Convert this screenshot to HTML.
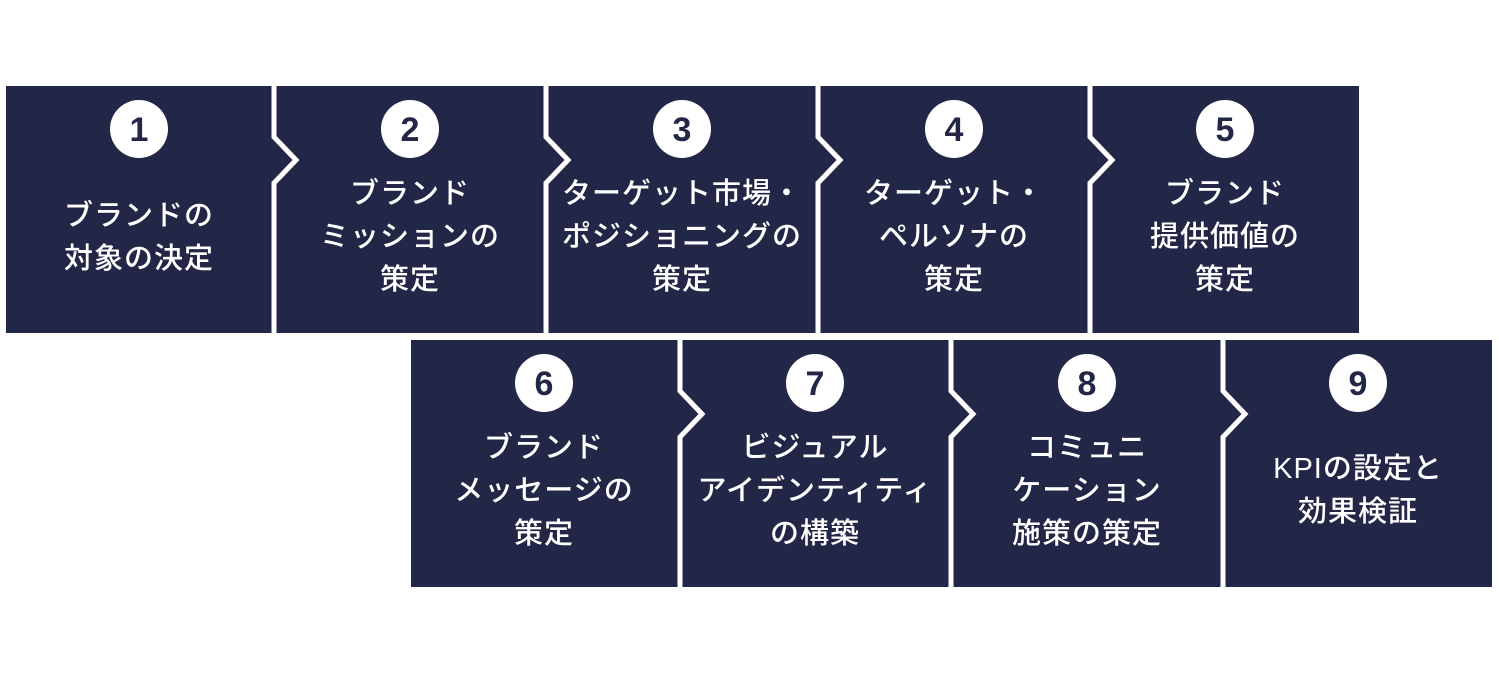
<!DOCTYPE html>
<html><head><meta charset="utf-8"><style>
body{margin:0;background:#fff;}
svg{display:block}
text{font-family:"Liberation Sans","Noto Sans CJK JP",sans-serif;}
.t{fill:#fff;font-size:29px;font-weight:500;text-anchor:middle;letter-spacing:1px}
.n{fill:#232747;font-size:34px;font-weight:bold;text-anchor:middle}
</style></head><body>
<svg width="1499" height="675" xmlns="http://www.w3.org/2000/svg">
<rect width="1499" height="675" fill="#fff"/>
<rect x="6" y="86" width="1353" height="247" fill="#232747"/>
<rect x="411" y="340" width="1081" height="247" fill="#232747"/>
<g stroke="#fff" stroke-width="5" fill="none">
<polyline points="274,84 274,137 296,160 274,183 274,335"/>
<polyline points="546,84 546,137 568,160 546,183 546,335"/>
<polyline points="818,84 818,137 840,160 818,183 818,335"/>
<polyline points="1090,84 1090,137 1112,160 1090,183 1090,335"/>
<polyline points="680,338 680,391 702,414 680,437 680,589"/>
<polyline points="951,338 951,391 973,414 951,437 951,589"/>
<polyline points="1223,338 1223,391 1245,414 1223,437 1223,589"/>
</g>
<g fill="#fff">
<circle cx="139" cy="129" r="29"/><circle cx="410" cy="129" r="29"/><circle cx="682" cy="129" r="29"/><circle cx="954" cy="129" r="29"/><circle cx="1225" cy="129" r="29"/>
<circle cx="544" cy="383" r="29"/><circle cx="815" cy="383" r="29"/><circle cx="1087" cy="383" r="29"/><circle cx="1358" cy="383" r="29"/>
</g>
<text class="n" x="139" y="141">1</text><text class="n" x="410" y="141">2</text><text class="n" x="682" y="141">3</text><text class="n" x="954" y="141">4</text><text class="n" x="1225" y="141">5</text>
<text class="n" x="544" y="395">6</text><text class="n" x="815" y="395">7</text><text class="n" x="1087" y="395">8</text><text class="n" x="1358" y="395">9</text>
<text class="t" x="139" y="225">ブランドの</text><text class="t" x="139" y="268">対象の決定</text>
<text class="t" x="410" y="203">ブランド</text><text class="t" x="410" y="246">ミッションの</text><text class="t" x="410" y="289">策定</text>
<text class="t" x="682" y="203">ターゲット市場・</text><text class="t" x="682" y="246">ポジショニングの</text><text class="t" x="682" y="289">策定</text>
<text class="t" x="954" y="203">ターゲット・</text><text class="t" x="954" y="246">ペルソナの</text><text class="t" x="954" y="289">策定</text>
<text class="t" x="1225" y="203">ブランド</text><text class="t" x="1225" y="246">提供価値の</text><text class="t" x="1225" y="289">策定</text>
<text class="t" x="544" y="457">ブランド</text><text class="t" x="544" y="500">メッセージの</text><text class="t" x="544" y="543">策定</text>
<text class="t" x="815" y="457">ビジュアル</text><text class="t" x="815" y="500">アイデンティティ</text><text class="t" x="815" y="543">の構築</text>
<text class="t" x="1087" y="457">コミュニ</text><text class="t" x="1087" y="500">ケーション</text><text class="t" x="1087" y="543">施策の策定</text>
<text class="t" x="1358" y="478">KPIの設定と</text><text class="t" x="1358" y="521">効果検証</text>
</svg>
</body></html>
